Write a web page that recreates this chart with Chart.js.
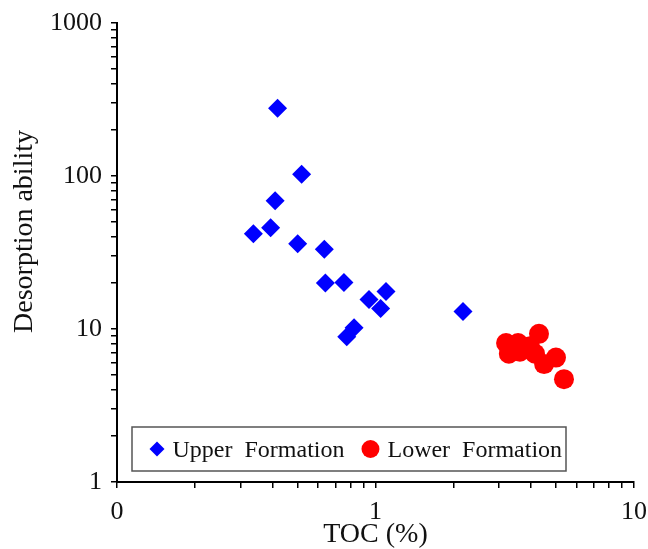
<!DOCTYPE html>
<html>
<head>
<meta charset="utf-8">
<script src="https://cdn.jsdelivr.net/npm/chart.js@4/dist/chart.umd.min.js"></script>
<style>
  body { margin: 0; background: #fff; }
  #wrap { width: 648px; height: 549px; }
</style>
</head>
<body>
<div id="wrap"><canvas id="tocChart" width="648" height="549"></canvas></div>
<script>
// values
const seriesNames = ["Upper  Formation", "Lower  Formation"];
const upperToc = [0.418, 0.518, 0.409, 0.337, 0.393, 0.500, 0.634, 0.640, 0.755, 0.944, 1.047, 1.098, 2.18, 0.774, 0.826];
const upperDesorption = [277, 102.6, 69, 42, 45.9, 36.1, 33.2, 20.0, 20.1, 15.6, 13.6, 17.6, 13.0, 8.9, 10.2];
const lowerToc = [3.20, 3.28, 3.56, 3.62, 3.96, 4.29, 4.14, 4.49, 4.99, 5.36];
const lowerDesorption = [8.1, 6.9, 8.1, 7.1, 7.7, 9.3, 6.9, 5.9, 6.5, 4.7];

const xMajor = [0.1, 1, 10];
const xTickLabels = ["0", "1", "10"];
const yMajor = [1, 10, 100, 1000];
const yTickLabels = ["1", "10", "100", "1000"];

const serif = "'Liberation Serif', 'Times New Roman', serif";

// log ticks: majors plus 2..9 of each decade
function logTicks(majors) {
    const out = [];
    for (let i = 0; i < majors.length - 1; i++) {
        for (let m = 1; m < 10; m++) out.push(majors[i] * m);
    }
    out.push(majors[majors.length - 1]);
    return out;
}

function labelFor(majors, labels, v) {
    const i = majors.findIndex(m => Math.abs(m - v) / m < 1e-6);
    return i >= 0 ? labels[i] : "";
}

const toPoints = (xs, ys) => xs.map((x, i) => ({ x: x, y: ys[i] }));

// legend drawn inside the plot area, bottom left
const boxLegend = {
    id: "boxLegend",
    afterDraw(chart) {
        const ctx = chart.ctx;
        const area = chart.chartArea;
        const left = area.left + 15, top = area.bottom - 55;
        const w = 434, h = 44;
        ctx.save();
        ctx.strokeStyle = "#555";
        ctx.lineWidth = 1.5;
        ctx.strokeRect(left, top, w, h);
        ctx.font = "24px " + serif;
        ctx.textBaseline = "alphabetic";
        let x = left + 25;
        const cy = top + 22;
        chart.data.datasets.forEach(ds => {
            const r = ds.pointStyle === "rectRot" ? 7.5 : 9;
            ctx.fillStyle = ds.backgroundColor;
            ctx.beginPath();
            if (ds.pointStyle === "rectRot") {
                ctx.moveTo(x - r, cy); ctx.lineTo(x, cy - r);
                ctx.lineTo(x + r, cy); ctx.lineTo(x, cy + r);
            } else {
                ctx.arc(x, cy, r, 0, Math.PI * 2);
            }
            ctx.closePath();
            ctx.fill();
            ctx.fillStyle = "#111";
            const tx = x + r + 8;
            ctx.fillText(ds.label, tx, top + 30);
            x = tx + ctx.measureText(ds.label).width + 26;
        });
        ctx.restore();
    }
};

new Chart(document.getElementById("tocChart"), {
    type: "scatter",
    data: {
        datasets: [{
            label: seriesNames[0],
            data: toPoints(upperToc, upperDesorption),
            pointStyle: "rectRot",
            pointRadius: 9.5,
            pointHoverRadius: 9.5,
            backgroundColor: "#0000ff",
            borderColor: "#0000ff",
            borderWidth: 0
        }, {
            label: seriesNames[1],
            data: toPoints(lowerToc, lowerDesorption),
            pointStyle: "circle",
            pointRadius: 10,
            pointHoverRadius: 10,
            backgroundColor: "#ff0000",
            borderColor: "#ff0000",
            borderWidth: 0
        }]
    },
    options: {
        responsive: false,
        animation: false,
        layout: { padding: { top: 23, right: 14, left: 0, bottom: 0 } },
        plugins: {
            legend: { display: false },
            tooltip: { enabled: false }
        },
        scales: {
            x: {
                type: "logarithmic",
                min: 0.1,
                max: 10,
                afterBuildTicks: s => { s.ticks = logTicks(xMajor).map(v => ({ value: v })); },
                afterFit: s => { s.height = 67; s.paddingLeft = 0; s.paddingRight = 0; },
                border: { color: "#000", width: 2 },
                grid: { drawOnChartArea: false, drawTicks: true, tickLength: 6, color: "#000", lineWidth: 1.5 },
                ticks: {
                    autoSkip: false,
                    maxRotation: 0,
                    padding: 9,
                    color: "#111",
                    font: { family: serif, size: 26 },
                    callback: v => labelFor(xMajor, xTickLabels, v)
                },
                title: {
                    display: true,
                    text: "TOC (%)",
                    color: "#111",
                    font: { family: serif, size: 28, lineHeight: 1 },
                    padding: { top: 0, bottom: 0 }
                }
            },
            y: {
                type: "logarithmic",
                min: 1,
                max: 1000,
                afterBuildTicks: s => { s.ticks = logTicks(yMajor).map(v => ({ value: v })); },
                afterFit: s => { s.width = 117; s.paddingTop = 0; s.paddingBottom = 0; },
                border: { color: "#000", width: 2 },
                grid: { drawOnChartArea: false, drawTicks: true, tickLength: 6, color: "#000", lineWidth: 1.5 },
                ticks: {
                    autoSkip: false,
                    padding: 9,
                    color: "#111",
                    font: { family: serif, size: 26 },
                    callback: v => labelFor(yMajor, yTickLabels, v)
                },
                title: {
                    display: true,
                    text: "      Desorption ability",
                    color: "#111",
                    font: { family: serif, size: 28, lineHeight: 1 },
                    padding: { top: 11, bottom: 0 }
                }
            }
        }
    },
    plugins: [boxLegend]
});
</script>
</body>
</html>
